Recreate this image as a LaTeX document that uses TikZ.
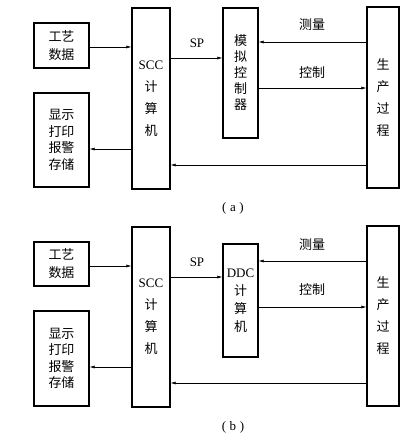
\documentclass[tikz,border=0pt]{standalone}
\usepackage{fontspec}
\setmainfont{Liberation Serif}
\newfontfamily\cjk{Noto Sans CJK SC}
\usetikzlibrary{arrows.meta}
\tikzset{
  blk/.style={draw,line width=1.2pt,inner sep=0pt,align=center},
  arr/.style={line width=0.6pt,-{Latex[length=5pt,width=3pt]}},
  lbl/.style={font=\fontsize{13}{15}\selectfont},
  clbl/.style={font=\fontsize{13}{15}\selectfont\cjk}
}
\begin{document}
\begin{tikzpicture}[x=1pt,y=-1pt]
\useasboundingbox (0,0) rectangle (415,442);
% (a)
\begin{scope}
\node[blk,minimum width=55pt,minimum height=45pt,font=\fontsize{13}{18}\selectfont\cjk] (data) at (61.5,45.5) {工艺\\数据};
\node[blk,minimum width=55pt,minimum height=94pt,font=\fontsize{13}{16.5}\selectfont\cjk] (disp) at (61.5,140) {显示\\打印\\报警\\存储};
\node[blk,minimum width=38pt,minimum height=181pt,font=\fontsize{13}{22}\selectfont] (scc) at (151,98.5) {SCC\\\cjk 计\\\cjk 算\\\cjk 机};
\node[blk,minimum width=35pt,minimum height=130pt,font=\fontsize{13}{16}\selectfont\cjk] (ctrl) at (240.5,73) {\raisebox{-5pt}{模}\\\raisebox{-5pt}{拟}\\\raisebox{-5pt}{控}\\\raisebox{-5pt}{制}\\\raisebox{-5pt}{器}};
\node[blk,minimum width=32pt,minimum height=181pt,font=\fontsize{13}{22}\selectfont\cjk] (proc) at (383,97.5) {生\\产\\过\\程};
\draw[arr] (data.east |- 0,47) -- (scc.west |- 0,47);
\draw[arr] (scc.east |- 0,58) -- (ctrl.west |- 0,58);
\draw[arr] (proc.west |- 0,42) -- (ctrl.east |- 0,42);
\draw[arr] (ctrl.east |- 0,88) -- (proc.west |- 0,88);
\draw[arr] (scc.west |- 0,149) -- (disp.east |- 0,149);
\draw[arr] (proc.west |- 0,165) -- (scc.east |- 0,165);
\node[lbl] (sp) at (197,43) {SP};
\node[clbl] (meas) at (312,25) {测量};
\node[clbl] (ctl) at (312,73) {控制};
\node[lbl] (capa) at (233,208) {(\;a\;)};
\end{scope}
% (b)
\begin{scope}[yshift=-219pt]
\node[blk,minimum width=55pt,minimum height=44pt,font=\fontsize{13}{18}\selectfont\cjk] (data) at (61.5,45) {工艺\\数据};
\node[blk,minimum width=55pt,minimum height=95pt,font=\fontsize{13}{16.5}\selectfont\cjk] (disp) at (61.5,139.5) {显示\\打印\\报警\\存储};
\node[blk,minimum width=38pt,minimum height=180pt,font=\fontsize{13}{22}\selectfont] (scc) at (151,98) {SCC\\\cjk 计\\\cjk 算\\\cjk 机};
\node[blk,minimum width=35pt,minimum height=113pt,font=\fontsize{13}{18}\selectfont] (ddc) at (240.5,81.5) {DDC\\\cjk 计\\\cjk 算\\\cjk 机};
\node[blk,minimum width=32pt,minimum height=180pt,font=\fontsize{13}{22}\selectfont\cjk] (proc) at (383,97) {生\\产\\过\\程};
\draw[arr] (data.east |- 0,47) -- (scc.west |- 0,47);
\draw[arr] (scc.east |- 0,58) -- (ddc.west |- 0,58);
\draw[arr] (proc.west |- 0,42) -- (ddc.east |- 0,42);
\draw[arr] (ddc.east |- 0,88) -- (proc.west |- 0,88);
\draw[arr] (scc.west |- 0,148) -- (disp.east |- 0,148);
\draw[arr] (proc.west |- 0,164) -- (scc.east |- 0,164);
\node[lbl] (sp) at (197,43) {SP};
\node[clbl] (meas) at (312,26) {测量};
\node[clbl] (ctl) at (312,71) {控制};
\node[lbl] (capb) at (233,208) {(\;b\;)};
\end{scope}
\end{tikzpicture}
\end{document}
